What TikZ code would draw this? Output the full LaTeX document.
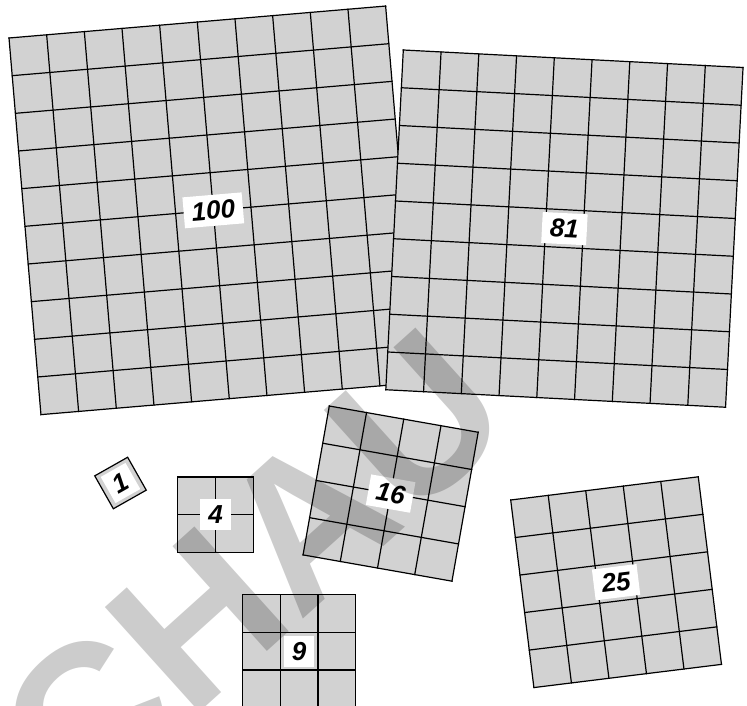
\documentclass[tikz,border=0pt]{standalone}
\usepackage{fontspec}
\newfontfamily\labelfont{Liberation Sans}
\newfontfamily\wmfont{Liberation Sans}
\definecolor{cellgray}{RGB}{210,210,210}
\tikzset{
 gridline/.style={line width=1.2pt, draw=black, line cap=rect},
 cellfill/.style={fill=cellgray},
 numlabel/.style={fill=white, inner xsep=8pt, inner ysep=6.5pt, text height=18pt, text depth=0pt,
   font=\labelfont\bfseries\itshape\fontsize{26}{26}\selectfont},
 watermark/.style={text=black, text opacity=0.2, inner sep=0pt,
   font=\wmfont\bfseries\fontsize{205}{205}\selectfont},
}
\newcommand{\sqgrid}[6]{%
 \begin{scope}[shift={(#2,#3)}, rotate=#4]
  \fill[cellfill] (0,0) rectangle (#5*37.8, #5*37.8);
  \foreach \k in {0,...,#5} {
    \draw[gridline] (\k*37.8,0) -- (\k*37.8,#5*37.8);
    \draw[gridline] (0,\k*37.8) -- (#5*37.8,\k*37.8);
  }
  \node[numlabel, rotate=#4] (#1) at (#5*18.9, #5*18.9) {#6};
 \end{scope}}
\begin{document}
\begin{tikzpicture}[x=1pt,y=-1pt]
\useasboundingbox (0,0) rectangle (747,706);
\clip (0,0) rectangle (747,706);
\sqgrid{g100}{9}{38}{4.85}{10}{100}
\sqgrid{g81}{403.3}{50}{-2.95}{9}{81}
\sqgrid{g16}{329.3}{406}{-10}{4}{16}
\sqgrid{g25}{510.7}{500}{7.05}{5}{25}
\sqgrid{g4}{177.7}{477}{0}{2}{4}
\sqgrid{g9}{242.3}{594.3}{0}{3}{9}
\begin{scope}[shift={(120.5,483)}, rotate=29.5]
 \fill[cellfill] (-18.9,-18.9) rectangle (18.9,18.9);
 \draw[gridline] (-18.9,-18.9) rectangle (18.9,18.9);
 \node[numlabel, rotate=29.5, inner xsep=7pt, inner ysep=6pt] (g1) at (0,0) {1};
\end{scope}
\node[watermark, rotate=42] (wm) at (252.5,570.4) {CHAU};
\end{tikzpicture}
\end{document}
